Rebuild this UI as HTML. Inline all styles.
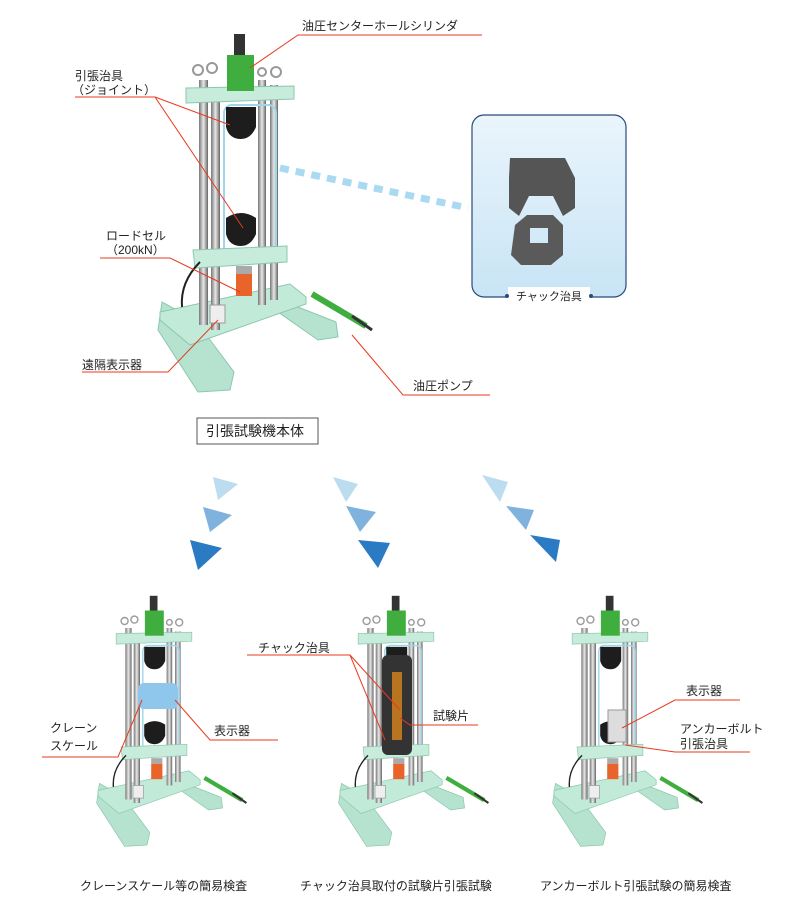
<!DOCTYPE html>
<html><head><meta charset="utf-8"><style>
html,body{margin:0;padding:0;background:#fff;}
body{width:800px;height:905px;position:relative;overflow:hidden;font-family:"Liberation Sans","Noto Sans CJK JP",sans-serif;}
svg{position:absolute;left:0;top:0;}
svg text{font-family:"Liberation Sans","Noto Sans CJK JP",sans-serif;font-size:12px;fill:#222;}
</style></head><body>
<svg width="800" height="905" viewBox="0 0 800 905" xmlns="http://www.w3.org/2000/svg">
<defs>
<linearGradient id="rod" x1="0" x2="1"><stop offset="0" stop-color="#777"/><stop offset=".5" stop-color="#e8e8e8"/><stop offset="1" stop-color="#666"/></linearGradient>
<linearGradient id="ib" x1="0" y1="0" x2="0" y2="1"><stop offset="0" stop-color="#eaf5fc"/><stop offset="1" stop-color="#c8e4f5"/></linearGradient>
<g id="m">
  <polygon points="158,330 162,302 195,320 234,372 230,390 198,392" fill="#b6e3cf" stroke="#8cc7ae"/>
  <polygon points="280,300 336,322 338,337 318,340 278,312" fill="#b6e3cf" stroke="#8cc7ae"/>
  <polygon points="160,312 290,284 306,297 306,304 190,345 160,320" fill="#c2ead8" stroke="#8cc7ae"/>
  <rect x="199" y="80" width="9" height="245" fill="url(#rod)"/>
  <rect x="211" y="95" width="9" height="235" fill="url(#rod)"/>
  <rect x="258" y="80" width="8" height="225" fill="url(#rod)"/>
  <rect x="270" y="85" width="8" height="215" fill="url(#rod)"/>
  <rect x="224" y="105" width="52" height="150" rx="8" fill="none" stroke="#9fd6ea" stroke-width="2"/>
  <polygon points="186,88 294,86 294,99 186,103" fill="#c8ecdc" stroke="#8cc7ae"/>
  <circle cx="198" cy="70" r="5" fill="none" stroke="#999" stroke-width="2"/>
  <circle cx="212" cy="68" r="5" fill="none" stroke="#999" stroke-width="2"/>
  <circle cx="262" cy="72" r="4" fill="none" stroke="#999" stroke-width="2"/>
  <circle cx="276" cy="72" r="5" fill="none" stroke="#999" stroke-width="2"/>
  <rect x="234" y="34" width="11" height="22" fill="#333"/>
  <rect x="227" y="55" width="27" height="36" fill="#3fae3f"/>
  <path d="M226,107 h30 v20 q-5,12 -15,12 q-12,0 -15,-12z" fill="#1d1d1d"/>
  <path d="M226,218 q15,-10 30,0 v16 q-5,12 -15,12 q-12,0 -15,-12z" fill="#1d1d1d"/>
  <polygon points="193,250 287,246 287,262 195,268" fill="#c8ecdc" stroke="#8cc7ae"/>
  <rect x="236" y="266" width="16" height="8" fill="#aaa"/>
  <rect x="236" y="274" width="16" height="22" fill="#e8642a"/>
  <rect x="210" y="305" width="15" height="18" fill="#eee" stroke="#999"/>
  <path d="M312,294 L366,326" stroke="#3fae3f" stroke-width="6"/>
  <path d="M352,316 L372,330" stroke="#333" stroke-width="3"/>
  <path d="M200,262 q-20,20 -18,45" stroke="#222" fill="none" stroke-width="2"/>
</g>
</defs>
<use href="#m"/>
<!-- top labels -->
<g stroke="#e83a1f" stroke-width="1" fill="none">
<path d="M482,35 H298 L250,68"/>
<path d="M75,97 H155 L230,125"/>
<path d="M155,97 L243,228"/>
<path d="M100,258 H170 L240,292"/>
<path d="M82,372 H168 L218,320"/>
<path d="M490,395 H403 L352,335"/>
</g>
<text x="302" y="30">油圧センターホールシリンダ</text>
<text x="75" y="80">引張治具</text>
<text x="72" y="94">（ジョイント）</text>
<text x="106" y="240">ロードセル</text>
<text x="106" y="254">（200kN）</text>
<text x="82" y="369">遠隔表示器</text>
<text x="413" y="390">油圧ポンプ</text>
<path d="M280,168 L468,208" stroke="#a9daf2" stroke-width="7" stroke-dasharray="9,7"/>
<rect x="472" y="115" width="154" height="182" rx="12" fill="url(#ib)" stroke="#2a4a7a" stroke-width="1.2"/>
<rect x="508" y="287" width="82" height="16" fill="#fff"/>
<circle cx="507" cy="296" r="2" fill="#2a4a7a"/><circle cx="591" cy="296" r="2" fill="#2a4a7a"/>
<text x="516" y="300" style="font-size:11px">チャック治具</text>
<path d="M510,158 h55 l10,20 v30 l-12,8 l-10,-20 h-24 l-10,20 l-10,-8 v-30z" fill="#555"/>
<path d="M515,225 l12,-10 h26 l10,10 v30 l-12,10 h-30 l-10,-10z M530,228 h18 v15 h-18z" fill="#5a5a5a" fill-rule="evenodd"/>
<rect x="197" y="418" width="121" height="26" fill="#fff" stroke="#555"/>
<text x="206" y="436" style="font-size:14px">引張試験機本体</text>
<!-- triangles -->
<g>
<polygon points="213,477 238,484 218,500" fill="#bcdcf0"/>
<polygon points="203,507 232,515 210,532" fill="#7fb3dd"/>
<polygon points="190,540 222,548 198,570" fill="#2a7bc4"/>
<polygon points="333,477 358,484 346,502" fill="#bcdcf0"/>
<polygon points="346,506 376,512 360,532" fill="#7fb3dd"/>
<polygon points="358,540 390,543 378,568" fill="#2a7bc4"/>
<polygon points="482,475 508,482 500,502" fill="#bcdcf0"/>
<polygon points="506,506 534,510 526,530" fill="#7fb3dd"/>
<polygon points="530,535 560,540 556,562" fill="#2a7bc4"/>
</g>
<use href="#m" transform="translate(-14,572) scale(0.7)"/>
<use href="#m" transform="translate(228,572) scale(0.7)"/>
<use href="#m" transform="translate(442,572) scale(0.7)"/>
<rect x="138" y="683" width="40" height="26" rx="6" fill="#8ec6ec"/>
<rect x="382" y="655" width="30" height="100" rx="6" fill="#333"/>
<rect x="392" y="672" width="10" height="68" fill="#b8741e"/>
<rect x="608" y="710" width="18" height="32" fill="#ddd" stroke="#999"/>
<g stroke="#e83a1f" stroke-width="1" fill="none">
<path d="M42,757 H118 L142,700"/>
<path d="M278,740 H210 L175,700"/>
<path d="M247,655 H350 L385,740"/>
<path d="M350,655 L400,710"/>
<path d="M478,725 H410 L400,718"/>
<path d="M740,700 H675 L622,728"/>
<path d="M750,752 H675 L625,745"/>
</g>
<text x="50" y="732">クレーン</text>
<text x="50" y="750">スケール</text>
<text x="214" y="735">表示器</text>
<text x="258" y="652">チャック治具</text>
<text x="433" y="720">試験片</text>
<text x="686" y="695">表示器</text>
<text x="680" y="733">アンカーボルト</text>
<text x="680" y="748">引張治具</text>
<text x="80" y="890">クレーンスケール等の簡易検査</text>
<text x="300" y="890">チャック治具取付の試験片引張試験</text>
<text x="540" y="890">アンカーボルト引張試験の簡易検査</text>
</svg>
</body></html>
